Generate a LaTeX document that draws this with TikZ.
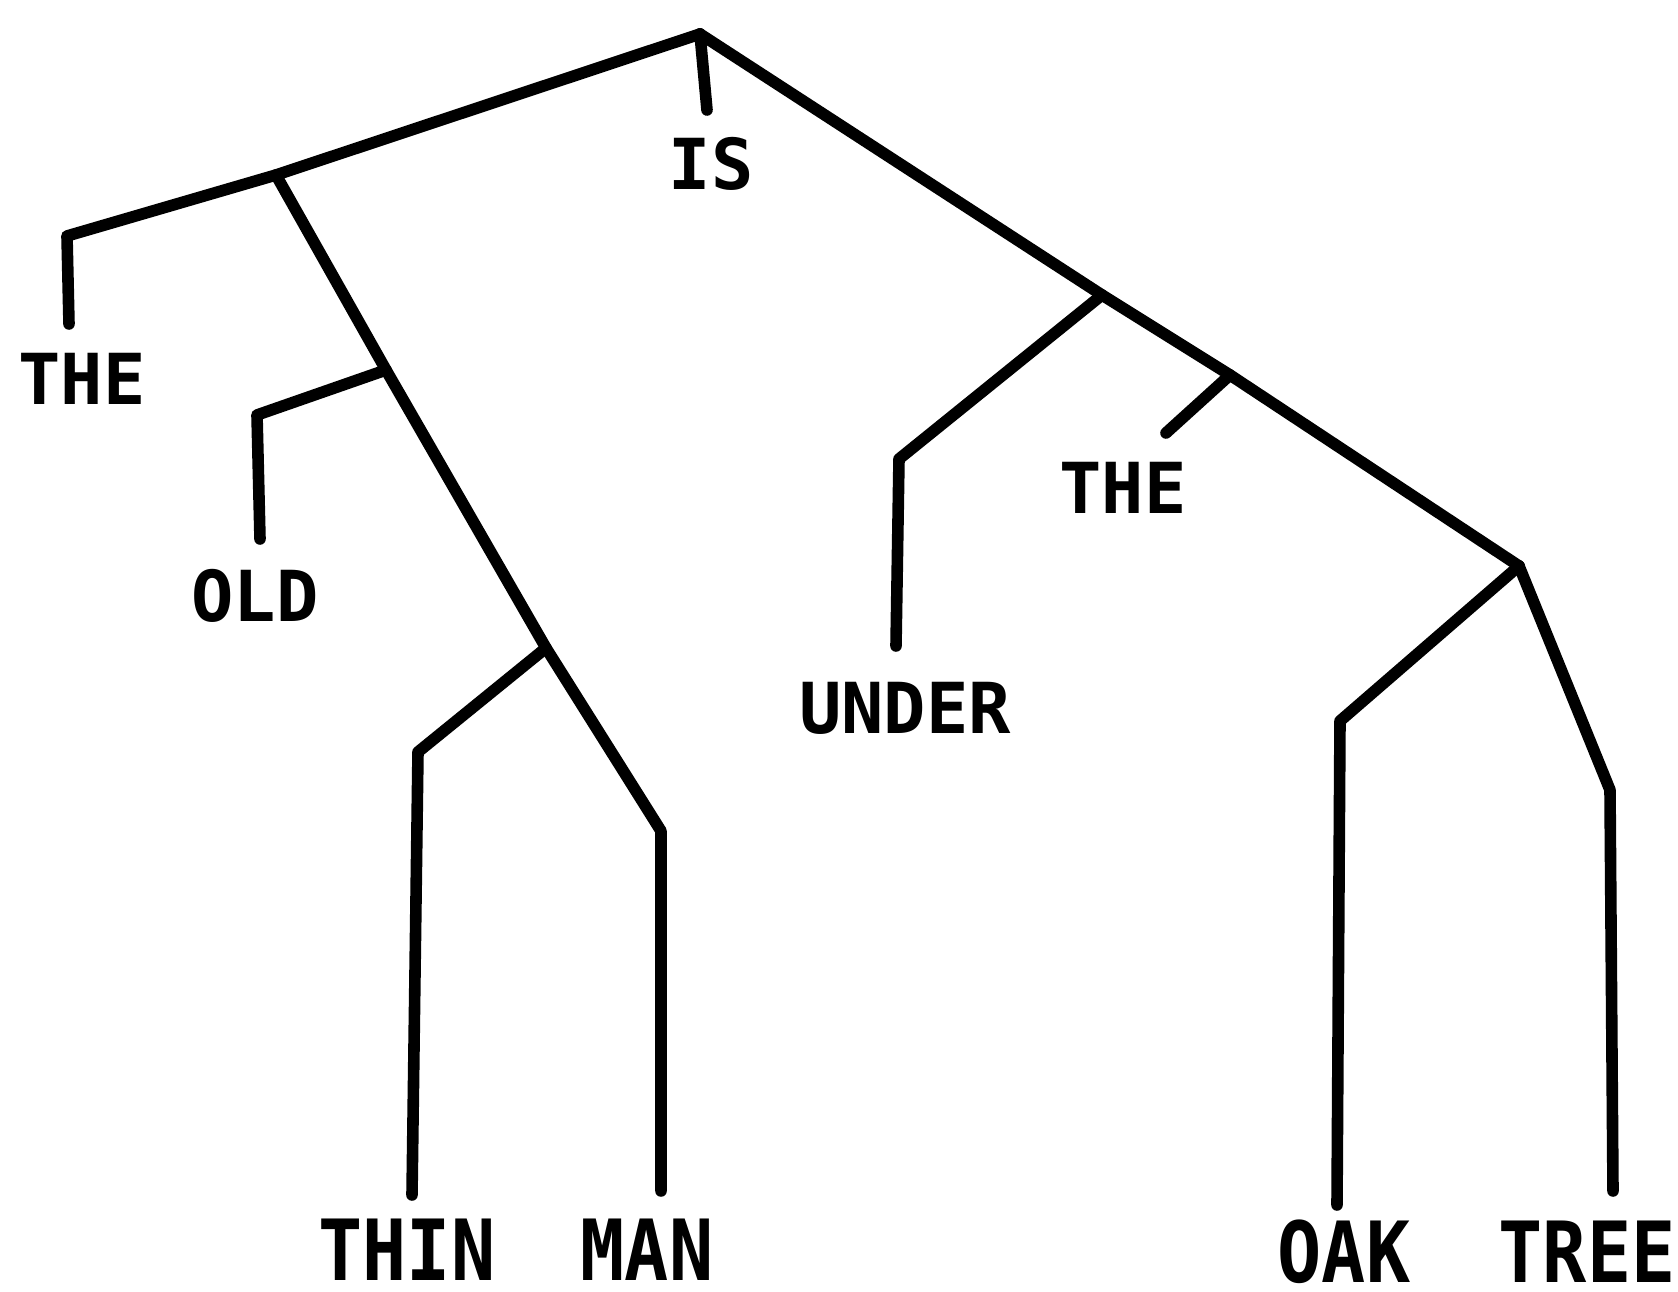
\documentclass[tikz,border=0pt]{standalone}
\usepackage{fontspec}
\newfontfamily\plotfont{DejaVu Sans Mono Bold}
\newfontfamily\plotfontn[FakeStretch=0.87]{DejaVu Sans Mono Bold}
\usepackage{tikz}
\tikzstyle{branch}=[line width=3.3pt, line cap=round, line join=round]
\tikzstyle{word}=[inner sep=0pt, font=\plotfont\fontsize{20}{20}\selectfont]
\tikzstyle{leafword}=[inner sep=0pt, font=\plotfontn\fontsize{24}{24}\selectfont]

\begin{document}
\begin{tikzpicture}[x=0.01cm,y=-0.01cm]
	\useasboundingbox (0,0) rectangle (1678,1292);
	\coordinate (root) at (700,34);
	\coordinate (subj) at (276,175);
	\coordinate (adjs) at (386,370);
	\coordinate (noun) at (546,648);
	\coordinate (pred) at (1102,295);
	\coordinate (obj) at (1230,375);
	\coordinate (cmpd) at (1519,566);
	\coordinate (theA) at (67,236);
	\coordinate (theAend) at (69,324);
	\coordinate (isend) at (707,110);
	\coordinate (oldA) at (257,415);
	\coordinate (oldend) at (260,539);
	\coordinate (thinA) at (418,752);
	\coordinate (thinend) at (412,1195);
	\coordinate (manA) at (661,831);
	\coordinate (manend) at (661,1191);
	\coordinate (underA) at (899,459);
	\coordinate (underend) at (896,646);
	\coordinate (theBend) at (1166,433);
	\coordinate (oakA) at (1340,721);
	\coordinate (oakend) at (1337,1205);
	\coordinate (treeA) at (1610,790);
	\coordinate (treeend) at (1613,1191);
	\draw[branch] (root) -- (subj) -- (theA) -- (theAend);
	\draw[branch] (root) -- (isend);
	\draw[branch] (subj) -- (adjs) -- (noun) -- (manA) -- (manend);
	\draw[branch] (adjs) -- (oldA) -- (oldend);
	\draw[branch] (noun) -- (thinA) -- (thinend);
	\draw[branch] (root) -- (pred) -- (obj) -- (cmpd);
	\draw[branch] (pred) -- (underA) -- (underend);
	\draw[branch] (obj) -- (theBend);
	\draw[branch] (cmpd) -- (oakA) -- (oakend);
	\draw[branch] (cmpd) -- (treeA) -- (treeend);
	\node[word] (is) at (711,164) {IS};
	\node[word] (theW) at (82,379) {THE};
	\node[word] (old) at (255,596) {OLD};
	\node[word] (under) at (905,708) {UNDER};
	\node[word] (theX) at (1123,488) {THE};
	\node[leafword] (thin) at (407,1250) {THIN};
	\node[leafword] (man) at (647,1250) {MAN};
	\node[leafword] (oak) at (1344,1252) {OAK};
	\node[leafword] (tree) at (1587,1252) {TREE};
\end{tikzpicture}
\end{document}
